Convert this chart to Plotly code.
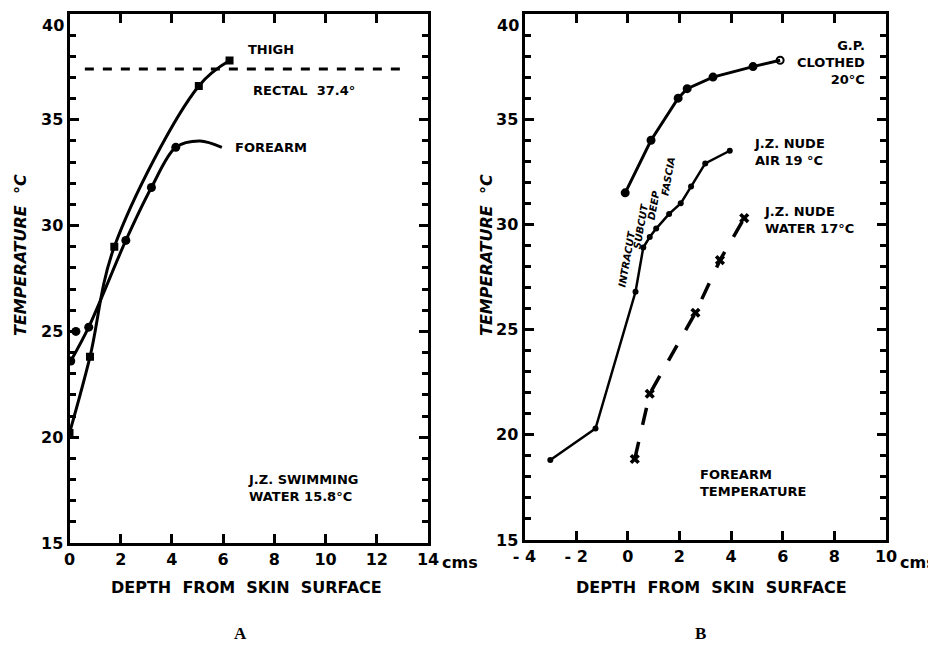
import plotly.graph_objects as go

# ---------------- data (panel A) ----------------
thigh_x = [0.0, 0.8, 1.75, 5.05, 6.25]
thigh_y = [20.2, 23.8, 29.0, 36.6, 37.8]

forearm_pts_x = [0.05, 0.25, 0.75, 2.2, 3.2, 4.15]
forearm_pts_y = [23.6, 25.0, 25.2, 29.3, 31.8, 33.7]
forearm_curve_x = [0.05, 0.75, 2.2, 3.2, 4.15, 5.1, 5.95]
forearm_curve_y = [23.6, 25.2, 29.3, 31.8, 33.7, 34.0, 33.7]

rectal_x = [0.6, 13.2]
rectal_y = [37.4, 37.4]

# ---------------- data (panel B) ----------------
gp_x = [-0.1, 0.9, 1.95, 2.3, 3.3, 4.85, 5.9]
gp_y = [31.5, 34.0, 36.0, 36.45, 37.0, 37.5, 37.8]

air_x = [-3.0, -1.25, 0.3, 0.6, 0.85, 1.1, 1.6, 2.05, 2.45, 3.0, 3.95]
air_y = [18.8, 20.3, 26.8, 28.9, 29.4, 29.8, 30.5, 31.0, 31.8, 32.9, 33.5]

water_x = [0.27, 0.85, 2.62, 3.57, 4.51]
water_y = [18.85, 21.95, 25.8, 28.3, 30.3]

xticks_a = [0, 2, 4, 6, 8, 10, 12, 14]
xticks_b = [-4, -2, 0, 2, 4, 6, 8, 10]
yticks = [15, 20, 25, 30, 35, 40]

# page body has an 8px margin; size the figure so it fits the 936x650 window
OFF = 8
W, H = 936 - OFF, 650 - OFF
FONT = "DejaVu Sans"
BLK = "black"


def px(p):  # page pixel x -> paper fraction
    return (p - OFF) / W


def py(p):  # page pixel y -> paper fraction
    return 1 - (p - OFF) / H


fig = go.Figure()

# panel A
fig.add_trace(go.Scatter(x=rectal_x, y=rectal_y, mode="lines",
                         line=dict(color=BLK, width=3, dash="dash"),
                         xaxis="x", yaxis="y", showlegend=False))
fig.add_trace(go.Scatter(x=thigh_x, y=thigh_y, mode="lines+markers",
                         line=dict(color=BLK, width=3, shape="spline", smoothing=1.0),
                         marker=dict(symbol="square", size=8, color=BLK),
                         xaxis="x", yaxis="y", showlegend=False))
fig.add_trace(go.Scatter(x=forearm_curve_x, y=forearm_curve_y, mode="lines",
                         line=dict(color=BLK, width=3, shape="spline", smoothing=0.9),
                         xaxis="x", yaxis="y", showlegend=False))
fig.add_trace(go.Scatter(x=forearm_pts_x, y=forearm_pts_y, mode="markers",
                         marker=dict(symbol="circle", size=9, color=BLK),
                         xaxis="x", yaxis="y", showlegend=False))

# panel B
fig.add_trace(go.Scatter(x=gp_x, y=gp_y, mode="lines+markers",
                         line=dict(color=BLK, width=3),
                         marker=dict(symbol=["circle"] * (len(gp_x) - 1) + ["circle-open"],
                                     size=7, color=BLK, line=dict(width=2, color=BLK)),
                         xaxis="x2", yaxis="y2", showlegend=False))
fig.add_trace(go.Scatter(x=air_x, y=air_y, mode="lines+markers",
                         line=dict(color=BLK, width=2.5),
                         marker=dict(symbol="circle", size=6, color=BLK),
                         xaxis="x2", yaxis="y2", showlegend=False))
fig.add_trace(go.Scatter(x=water_x, y=water_y, mode="lines+markers",
                         line=dict(color=BLK, width=3.5, dash="longdash"),
                         marker=dict(symbol="x", size=9, color=BLK),
                         xaxis="x2", yaxis="y2", showlegend=False))

tickfont = dict(family=FONT, size=16, color=BLK, weight="bold")
axis_common = dict(showline=True, linecolor=BLK, linewidth=3, mirror="ticks",
                   ticks="inside", ticklen=9, tickwidth=3, tickcolor=BLK,
                   showgrid=False, zeroline=False, automargin=False,
                   tickfont=tickfont)
# the top label (40) sits just below its tick so it stays inside the page
ytext = [str(v) for v in yticks[:-1]] + [""]
yaxis_common = dict(axis_common, range=[15, 40], tickvals=yticks, ticktext=ytext,
                    minor=dict(dtick=1, tick0=15, ticks="inside", ticklen=6,
                               tickwidth=2.5, tickcolor=BLK, showgrid=False))

fig.update_layout(
    width=W, height=H,
    margin=dict(l=0, r=0, t=0, b=0, pad=0, autoexpand=False),
    paper_bgcolor="white", plot_bgcolor="white",
    xaxis=dict(axis_common, domain=[px(69.5), px(428)], range=[0, 14],
               tickvals=xticks_a, ticktext=[str(v) for v in xticks_a], anchor="y"),
    yaxis=dict(yaxis_common, domain=[py(543), py(14)], anchor="x"),
    xaxis2=dict(axis_common, domain=[px(524.5), px(886)], range=[-4, 10],
                tickvals=xticks_b, ticktext=[str(v).replace("-", "- ") for v in xticks_b],
                anchor="y2"),
    yaxis2=dict(yaxis_common, domain=[py(540), py(14)], anchor="x2"),
)

lab = dict(family=FONT, size=13, color=BLK, weight="bold")


def ann(text, x, y, xref, yref, xanchor="left", yanchor="middle", font=None,
        align="left", angle=0):
    fig.add_annotation(text=text, x=x, y=y, xref=xref, yref=yref, xanchor=xanchor,
                       yanchor=yanchor, showarrow=False, font=font or lab,
                       align=align, textangle=angle)


# top y tick labels
ann(str(yticks[-1]), px(66), yticks[-1], "paper", "y", xanchor="right",
    yanchor="top", font=tickfont)
ann(str(yticks[-1]), px(521), yticks[-1], "paper", "y2", xanchor="right",
    yanchor="top", font=tickfont)

# panel A labels
ann("THIGH", 6.9, 38.3, "x", "y")
ann("RECTAL  37.4°", 7.1, 36.4, "x", "y")
ann("FOREARM", 6.4, 33.7, "x", "y")
ann("J.Z. SWIMMING<br>WATER 15.8°C", 6.9, 17.6, "x", "y")

# panel B labels
ann("G.P.<br>CLOTHED<br>20°C", 9.25, 37.7, "x2", "y2", xanchor="right", align="right")
ann("J.Z. NUDE<br>AIR 19 °C", 4.8, 33.45, "x2", "y2")
ann("J.Z. NUDE<br>WATER 17°C", 5.2, 30.2, "x2", "y2")
ann("FOREARM<br>TEMPERATURE", 2.7, 17.7, "x2", "y2")

small = dict(family=FONT, size=10, color=BLK, weight="bold", style="italic")
ann("INTRACUT", -0.05, 28.4, "x2", "y2", xanchor="center", font=small, angle=-80)
ann("SUBCUT", 0.5, 29.9, "x2", "y2", xanchor="center", font=small, angle=-80)
ann("DEEP", 1.0, 30.9, "x2", "y2", xanchor="center", font=small, angle=-80)
ann("FASCIA", 1.55, 32.3, "x2", "y2", xanchor="center", font=small, angle=-80)

# axis titles and units
title_font = dict(family=FONT, size=16, color=BLK, weight="bold")
ytitle_font = dict(family=FONT, size=16, color=BLK, weight="bold", style="italic")
ann("DEPTH  FROM  SKIN  SURFACE", px(246), py(587), "paper", "paper",
    xanchor="center", font=title_font)
ann("DEPTH  FROM  SKIN  SURFACE", px(711), py(587), "paper", "paper",
    xanchor="center", font=title_font)
ann("TEMPERATURE  °C", px(20), py(255), "paper", "paper",
    xanchor="center", font=ytitle_font, angle=-90)
ann("TEMPERATURE  °C", px(486), py(255), "paper", "paper",
    xanchor="center", font=ytitle_font, angle=-90)
ann("cms", px(440), py(562), "paper", "paper", font=title_font)
ann("cms", px(898), py(562), "paper", "paper", font=title_font)

serif = dict(family="Liberation Serif", size=17, color=BLK, weight="bold")
ann("A", px(240), py(633), "paper", "paper", xanchor="center", font=serif)
ann("B", px(700), py(633), "paper", "paper", xanchor="center", font=serif)

fig.write_html("out.html")
